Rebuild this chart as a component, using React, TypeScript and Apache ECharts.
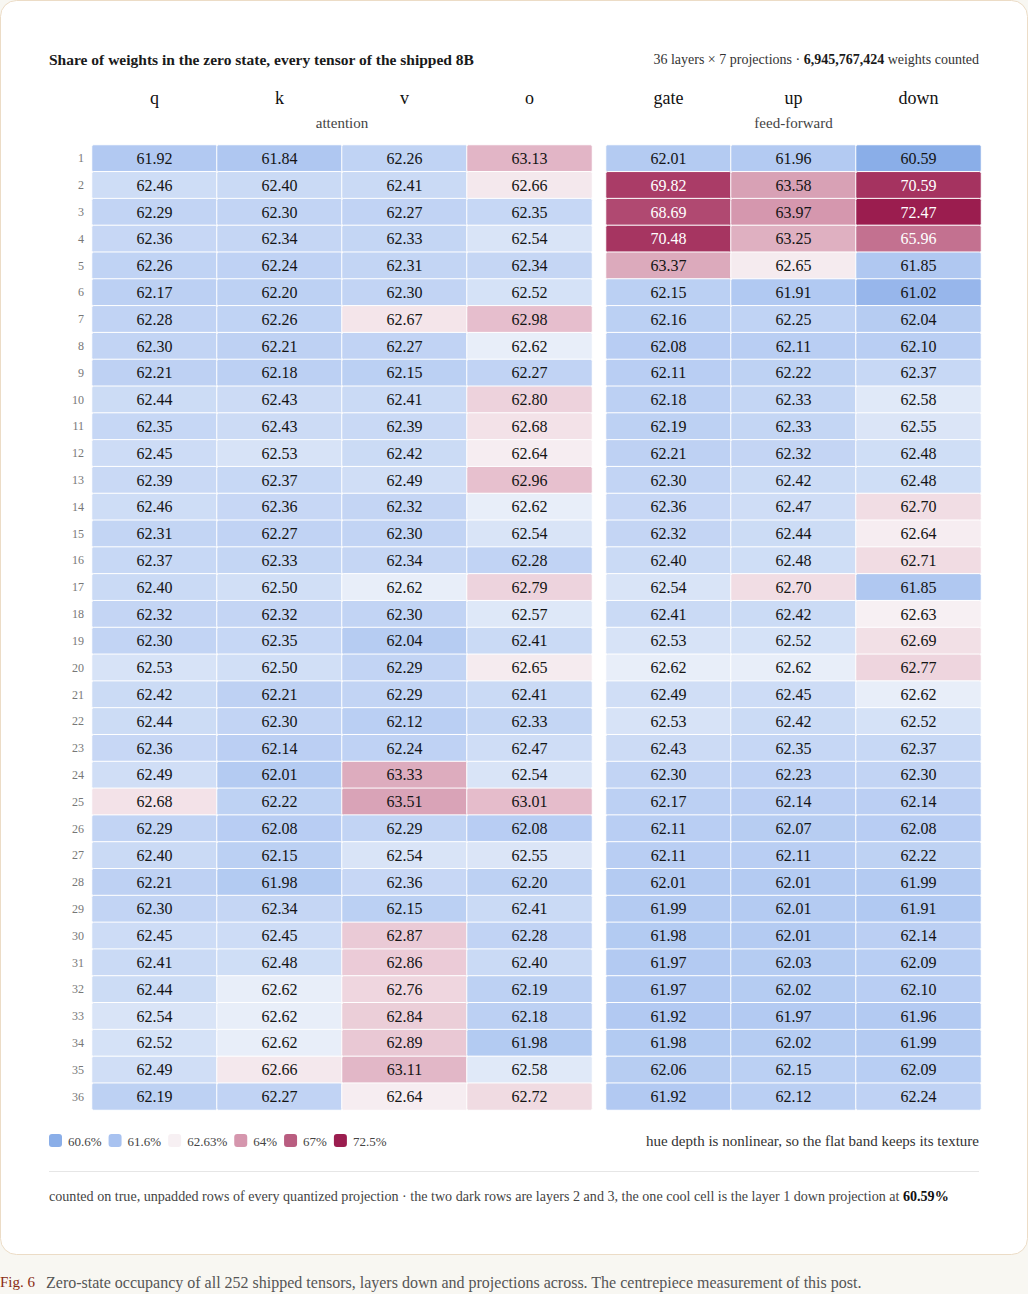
import React, { useEffect, useRef } from "react";
import * as echarts from "echarts";

const attnCols = ["q", "k", "v", "o"];
const ffCols = ["gate", "up", "down"];
const layers = Array.from({ length: 36 }, (_, i) => String(i + 1));

// rows: q, k, v, o, gate, up, down
const q = [61.92,62.46,62.29,62.36,62.26,62.17,62.28,62.30,62.21,62.44,62.35,62.45,62.39,62.46,62.31,62.37,62.40,62.32,62.30,62.53,62.42,62.44,62.36,62.49,62.68,62.29,62.40,62.21,62.30,62.45,62.41,62.44,62.54,62.52,62.49,62.19];
const k = [61.84,62.40,62.30,62.34,62.24,62.20,62.26,62.21,62.18,62.43,62.43,62.53,62.37,62.36,62.27,62.33,62.50,62.32,62.35,62.50,62.21,62.30,62.14,62.01,62.22,62.08,62.15,61.98,62.34,62.45,62.48,62.62,62.62,62.62,62.66,62.27];
const v = [62.26,62.41,62.27,62.33,62.31,62.30,62.67,62.27,62.15,62.41,62.39,62.42,62.49,62.32,62.30,62.34,62.62,62.30,62.04,62.29,62.29,62.12,62.24,63.33,63.51,62.29,62.54,62.36,62.15,62.87,62.86,62.76,62.84,62.89,63.11,62.64];
const o = [63.13,62.66,62.35,62.54,62.34,62.52,62.98,62.62,62.27,62.80,62.68,62.64,62.96,62.62,62.54,62.28,62.79,62.57,62.41,62.65,62.41,62.33,62.47,62.54,63.01,62.08,62.55,62.20,62.41,62.28,62.40,62.19,62.18,61.98,62.58,62.72];
const gate = [62.01,69.82,68.69,70.48,63.37,62.15,62.16,62.08,62.11,62.18,62.19,62.21,62.30,62.36,62.32,62.40,62.54,62.41,62.53,62.62,62.49,62.53,62.43,62.30,62.17,62.11,62.11,62.01,61.99,61.98,61.97,61.97,61.92,61.98,62.06,61.92];
const up = [61.96,63.58,63.97,63.25,62.65,61.91,62.25,62.11,62.22,62.33,62.33,62.32,62.42,62.47,62.44,62.48,62.70,62.42,62.52,62.62,62.45,62.42,62.35,62.23,62.14,62.07,62.11,62.01,62.01,62.01,62.03,62.02,61.97,62.02,62.15,62.12];
const down = [60.59,70.59,72.47,65.96,61.85,61.02,62.04,62.10,62.37,62.58,62.55,62.48,62.48,62.70,62.64,62.71,61.85,62.63,62.69,62.77,62.62,62.52,62.37,62.30,62.14,62.08,62.22,61.99,61.91,62.14,62.09,62.10,61.96,61.99,62.09,62.24];

const attnSeries = [q, k, v, o];
const ffSeries = [gate, up, down];

// legend ticks
const legendTicks = [60.6, 61.6, 62.63, 64, 67, 72.5];
const legendLabels = ["60.6%", "61.6%", "62.63%", "64%", "67%", "72.5%"];
const legendColors = ["#8aaee8", "#a8c2f0", "#f7f0f3", "#d596ad", "#b95d80", "#9b1d4f"];

// colour scale (nonlinear)
const scaleStops = [60.6, 61.6, 62.0, 62.3, 62.5, 62.62, 62.63, 62.7, 63.0, 63.5, 64, 67, 72.5];
const scaleColors = ["#8aaee8", "#a8c2f0", "#b4cbf2", "#c2d4f4", "#d1dff6", "#e8eef9", "#f7f0f3", "#f1dde4", "#e5bccb", "#d9a3b7", "#d596ad", "#b95d80", "#9b1d4f"];

function toT(val: number): number {
  if (val <= scaleStops[0]) return 0;
  for (let i = 1; i < scaleStops.length; i++) {
    if (val <= scaleStops[i]) {
      return i - 1 + (val - scaleStops[i - 1]) / (scaleStops[i] - scaleStops[i - 1]);
    }
  }
  return scaleStops.length - 1;
}

const SERIF = "'Liberation Serif', 'DejaVu Serif', serif";

function buildData(cols: number[][]) {
  const out: any[] = [];
  cols.forEach((arr, x) => {
    arr.forEach((val, y) => {
      out.push({
        value: [x, y, val, toT(val)],
        label: { color: val >= 65 ? "#ffffff" : "#141414" },
      });
    });
  });
  return out;
}

function measure(text: string, font: string): number {
  const c = document.createElement("canvas");
  const ctx = c.getContext("2d")!;
  ctx.font = font;
  return ctx.measureText(text).width;
}

export default function App() {
  const ref = useRef<HTMLDivElement>(null);
  useEffect(() => {
    document.body.style.margin = "0";
    const chart = echarts.init(ref.current!, null, { renderer: "svg" });

    const gridTop = 145;
    const gridH = 965;
    const leftG = { left: 92, width: 500 };
    const rightG = { left: 606, width: 375 };

    const legendFont = `13px ${SERIF}`;
    const legendEls: any[] = [];
    let lx = 49;
    legendLabels.forEach((lab, i) => {
      legendEls.push({
        type: "rect",
        shape: { x: lx, y: 1134, width: 13, height: 13, r: 3 },
        style: { fill: legendColors[i] },
      });
      legendEls.push({
        type: "text",
        x: lx + 19,
        y: 1141,
        style: { text: lab, font: legendFont, fill: "#444", textVerticalAlign: "middle", textAlign: "left" },
      });
      lx += 19 + measure(lab, legendFont) + 7;
    });

    const cellLabel = {
      show: true,
      formatter: (p: any) => p.value[2].toFixed(2),
      fontFamily: SERIF,
      fontSize: 16,
    };

    const axisCommon = {
      axisLine: { show: false }, axisTick: { show: false }, splitLine: { show: false },
    };

    chart.setOption({
      animation: false,
      backgroundColor: "#f8f7f2",
      grid: [
        { left: leftG.left, top: gridTop, width: leftG.width, height: gridH },
        { left: rightG.left, top: gridTop, width: rightG.width, height: gridH },
      ],
      xAxis: [
        {
          type: "category", gridIndex: 0, data: attnCols, position: "top", ...axisCommon,
          axisLabel: { margin: 38, fontFamily: SERIF, fontSize: 18, color: "#111" },
        },
        {
          type: "category", gridIndex: 1, data: ffCols, position: "top", ...axisCommon,
          axisLabel: { margin: 38, fontFamily: SERIF, fontSize: 18, color: "#111" },
        },
      ],
      yAxis: [
        {
          type: "category", gridIndex: 0, data: layers, inverse: true, ...axisCommon,
          axisLabel: { margin: 8, fontFamily: SERIF, fontSize: 12, color: "#777" },
        },
        {
          type: "category", gridIndex: 1, data: layers, inverse: true, ...axisCommon,
          axisLabel: { show: false },
        },
      ],
      visualMap: {
        type: "continuous",
        show: false,
        dimension: 3,
        min: 0,
        max: scaleStops.length - 1,
        seriesIndex: [0, 1],
        inRange: { color: scaleColors },
      },
      series: [
        {
          type: "heatmap", xAxisIndex: 0, yAxisIndex: 0,
          data: buildData(attnSeries),
          label: cellLabel,
          itemStyle: { borderColor: "#ffffff", borderWidth: 1, borderRadius: 2 },
          emphasis: { disabled: true },
          z: 5,
        },
        {
          type: "heatmap", xAxisIndex: 1, yAxisIndex: 1,
          data: buildData(ffSeries),
          label: cellLabel,
          itemStyle: { borderColor: "#ffffff", borderWidth: 1, borderRadius: 2 },
          emphasis: { disabled: true },
          z: 5,
        },
      ],
      graphic: [
        {
          type: "rect", z: -10, silent: true,
          shape: { x: 0.5, y: 0.5, width: 1027, height: 1254, r: 16 },
          style: { fill: "#ffffff", stroke: "#ecdcc6", lineWidth: 1 },
        },
        {
          type: "text", x: 49, y: 59,
          style: {
            text: "Share of weights in the zero state, every tensor of the shipped 8B",
            font: `bold 15.5px ${SERIF}`, fill: "#1a1a1a", textVerticalAlign: "middle",
          },
        },
        {
          type: "text", x: 979, y: 59,
          style: {
            text: "{a|36 layers × 7 projections · }{b|6,945,767,424}{a| weights counted}",
            textAlign: "right", textVerticalAlign: "middle",
            rich: {
              a: { fontFamily: SERIF, fontSize: 14, fill: "#333", color: "#333" },
              b: { fontFamily: SERIF, fontSize: 14, fontWeight: "bold", fill: "#1a1a1a", color: "#1a1a1a" },
            },
          },
        },
        {
          type: "text", x: leftG.left + leftG.width / 2, y: 123,
          style: { text: "attention", font: `15px ${SERIF}`, fill: "#444", textAlign: "center", textVerticalAlign: "middle" },
        },
        {
          type: "text", x: rightG.left + rightG.width / 2, y: 123,
          style: { text: "feed-forward", font: `15px ${SERIF}`, fill: "#444", textAlign: "center", textVerticalAlign: "middle" },
        },
        ...legendEls,
        {
          type: "text", x: 979, y: 1141,
          style: {
            text: "hue depth is nonlinear, so the flat band keeps its texture",
            font: `15px ${SERIF}`, fill: "#333", textAlign: "right", textVerticalAlign: "middle",
          },
        },
        {
          type: "line",
          shape: { x1: 49, y1: 1171.5, x2: 979, y2: 1171.5 },
          style: { stroke: "#e6e6e6", lineWidth: 1 },
        },
        {
          type: "text", x: 49, y: 1196,
          style: {
            text: "{a|counted on true, unpadded rows of every quantized projection · the two dark rows are layers 2 and 3, the one cool cell is the layer 1 down projection at }{b|60.59%}",
            textVerticalAlign: "middle",
            rich: {
              a: { fontFamily: SERIF, fontSize: 14.1, fill: "#444", color: "#444" },
              b: { fontFamily: SERIF, fontSize: 14.1, fontWeight: "bold", fill: "#111", color: "#111" },
            },
          },
        },
        {
          type: "text", x: 0, y: 1282,
          style: { text: "Fig. 6", font: `15px ${SERIF}`, fill: "#8a2c12", textVerticalAlign: "middle" },
        },
        {
          type: "text", x: 46, y: 1282,
          style: {
            text: "Zero-state occupancy of all 252 shipped tensors, layers down and projections across. The centrepiece measurement of this post.",
            font: `16px ${SERIF}`, fill: "#555", textVerticalAlign: "middle",
          },
        },
      ],
    });
    return () => chart.dispose();
  }, []);
  return <div ref={ref} style={{ width: 1028, height: 1294 }} />;
}
